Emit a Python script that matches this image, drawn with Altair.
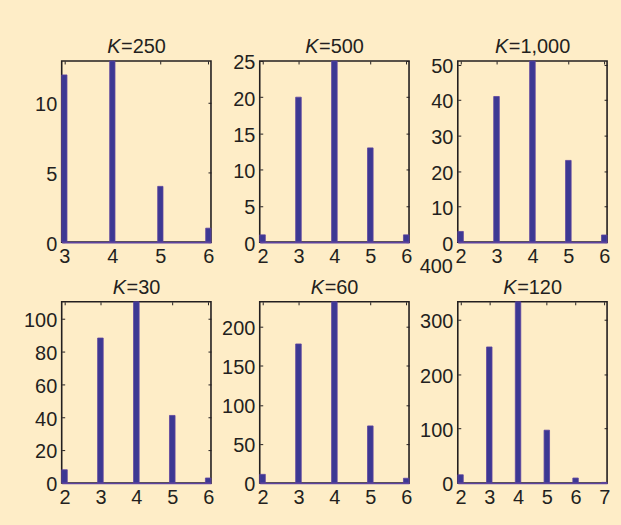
import altair as alt
import pandas as pd

# ---- data ----
titles = ["250", "500", "1,000", "30", "60", "120"]
x_k250 = [3, 4, 5, 6]
n_k250 = [12, 13, 4, 1]
x_k500 = [2, 3, 4, 5, 6]
n_k500 = [1, 20, 25, 13, 1]
x_k1000 = [2, 3, 4, 5, 6]
n_k1000 = [3, 41, 51, 23, 2]
x_k30 = [2, 3, 4, 5, 6]
n_k30 = [8, 88, 110, 41, 3]
x_k60 = [2, 3, 4, 5, 6]
n_k60 = [11, 178, 232, 73, 6]
x_k120 = [2, 3, 4, 5, 6, 7]
n_k120 = [15, 250, 333, 97, 9, 1]

ymax = [13, 25, 51, 110, 232, 333]
yticks = [[0, 5, 10], [0, 5, 10, 15, 20, 25], [0, 10, 20, 30, 40, 50],
          [0, 20, 40, 60, 80, 100], [0, 50, 100, 150, 200], [0, 100, 200, 300]]
bar_w = [0.11, 0.155, 0.155, 0.155, 0.155, 0.19]
extra_label = [None, None, None, None, None, 400]

# ---- style ----
BG = "#FEEDC7"
BAR = "#3C3893"
EDGE = "#5D439F"
TXT = "#231F20"
FONT = "Liberation Sans"
FS = 20
W, H = 150, 182

CW = {"=": 0.584, ",": 0.278}
for d in "0123456789":
    CW[d] = 0.556


def title_layers(kval):
    rest = "=" + kval
    wK = 0.667 * FS
    wr = sum(CW[c] for c in rest) * FS
    xk = W / 2 - (wK + wr) / 2 + wK
    k = alt.Chart(pd.DataFrame({"t": ["K"]})).mark_text(
        font=FONT, fontSize=FS, fontStyle="italic", color=TXT,
        align="right", baseline="alphabetic").encode(
        text="t:N", x=alt.value(xk), y=alt.value(-8))
    r = alt.Chart(pd.DataFrame({"t": [rest]})).mark_text(
        font=FONT, fontSize=FS, color=TXT,
        align="left", baseline="alphabetic").encode(
        text="t:N", x=alt.value(xk + 0.5), y=alt.value(-8))
    return [k, r]


def panel(i, xs, ns):
    w = bar_w[i]
    df = pd.DataFrame({"k": xs, "n": ns})
    xscale = alt.Scale(domain=[xs[0] - w / 2, xs[-1] + w / 2], nice=False, zero=False)
    yscale = alt.Scale(domain=[0, ymax[i]], nice=False, zero=True)
    base = alt.Chart(df).transform_calculate(
        x0=f"datum.k - {w / 2}", x1=f"datum.k + {w / 2}")
    bars = base.mark_rect(color=BAR, stroke=EDGE, strokeWidth=0.8).encode(
        x=alt.X("x0:Q", scale=xscale, axis=alt.Axis(
            orient="bottom", values=xs, ticks=False, tickSize=0, domain=True,
            domainColor=EDGE, domainWidth=1.6, labelPadding=5, labelFlush=False,
            labelOverlap=False, title=None, grid=False, zindex=1, format="d")),
        x2="x1:Q",
        y=alt.Y("n:Q", scale=yscale, axis=alt.Axis(
            orient="left", values=yticks[i], offset=-3, tickSize=3, ticks=True,
            domain=False, labelPadding=5, labelFlush=False, labelOverlap=False,
            labelOffset=2, title=None, grid=False, tickColor=TXT, tickWidth=1,
            format="d")),
        y2=alt.datum(0),
    )
    ticks = base.mark_rect(opacity=0).encode(
        x=alt.X("x0:Q", scale=xscale, axis=alt.Axis(
            orient="top", values=xs, offset=-3, tickSize=3, labels=False,
            domain=False, title=None, grid=False, tickColor=TXT, tickWidth=1)),
        y=alt.Y("n:Q", scale=yscale, axis=alt.Axis(
            orient="right", values=yticks[i], offset=-3, tickSize=3, labels=False,
            domain=False, title=None, grid=False, tickColor=TXT, tickWidth=1)),
    )
    layers = [bars, ticks]
    if extra_label[i] is not None:
        lab = alt.Chart(pd.DataFrame({"v": [extra_label[i]]})).mark_text(
            font=FONT, fontSize=FS, color=TXT, align="right", baseline="middle",
            dy=2, clip=False).encode(
            y=alt.Y("v:Q", scale=yscale, axis=None),
            x=alt.value(-5), text=alt.Text("v:Q", format="d"))
        layers.append(lab)
    layers += title_layers(titles[i])
    return alt.layer(*layers).resolve_axis(x="independent", y="independent").properties(
        width=W, height=H)


xs_all = [x_k250, x_k500, x_k1000, x_k30, x_k60, x_k120]
ns_all = [n_k250, n_k500, n_k1000, n_k30, n_k60, n_k120]
panels = [panel(i, xs_all[i], ns_all[i]) for i in range(6)]

chart = alt.concat(*panels, columns=3, spacing={"row": 60, "column": 49},
                   bounds="flush").properties(
    background=BG,
    padding={"left": 22, "top": 35, "right": 10, "bottom": 15},
).configure_view(stroke=TXT, strokeWidth=1.6).configure_axis(
    labelFont=FONT, labelFontSize=FS, labelColor=TXT)

chart.save("out.html", embed_options={"renderer": "svg", "actions": False})
